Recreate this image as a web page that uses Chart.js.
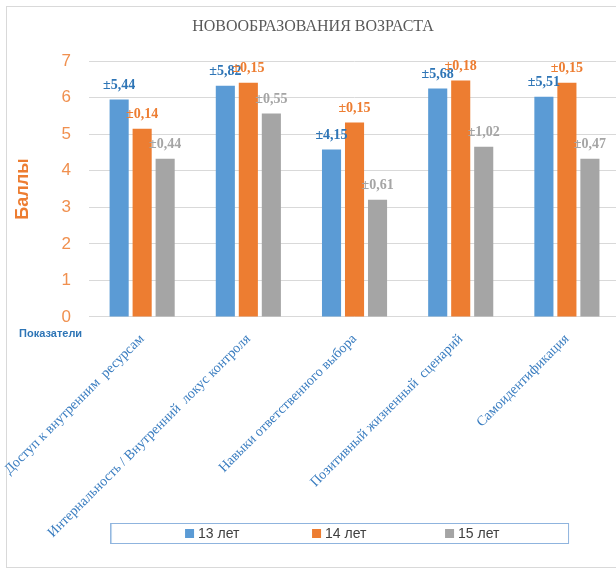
<!DOCTYPE html>
<html>
<head>
<meta charset="utf-8">
<script src="https://cdn.jsdelivr.net/npm/chart.js@4.4.1/dist/chart.umd.min.js"></script>
<style>
html, body { margin: 0; padding: 0; overflow: hidden; background: #ffffff; width: 616px; height: 572px; }
#wrap { position: relative; width: 622px; height: 572px; }
</style>
</head>
<body>
<div id="wrap"><canvas id="c" width="622" height="572"></canvas></div>
<script>
const chartTitle = 'НОВООБРАЗОВАНИЯ ВОЗРАСТА';
const categories = [
  'Доступ к внутренним  ресурсам',
  'Интернальность / Внутренний  локус контроля',
  'Навыки ответственного выбора',
  'Позитивный жизненный  сценарий',
  'Самоидентификация'
];
const seriesNames = ['13 лет', '14 лет', '15 лет'];
const age13 = [5.95, 6.33, 4.58, 6.25, 6.03];
const age14 = [5.15, 6.41, 5.32, 6.47, 6.41];
const age15 = [4.33, 5.57, 3.21, 4.66, 4.33];
const err13 = [5.44, 5.82, 4.15, 5.68, 5.51];
const err14 = [0.14, 0.15, 0.15, 0.18, 0.15];
const err15 = [0.44, 0.55, 0.61, 1.02, 0.47];
const yTicks = [0, 1, 2, 3, 4, 5, 6, 7];
const yTitle = 'Баллы';
const xTitle = 'Показатели';

const barColors = ['#5B9BD5', '#ED7D31', '#A5A5A5'];
const labelColors = ['#2E75B6', '#ED7D31', '#A5A5A5'];
const values = [age13, age14, age15];
const errors = [err13, err14, err15];

const datasets = seriesNames.map((name, i) => ({
  label: name,
  data: values[i],
  errs: errors[i],
  backgroundColor: barColors[i],
  labelColor: labelColors[i],
  borderWidth: 0,
  categoryPercentage: 0.65,
  barPercentage: 0.83
}));

const decorPlugin = {
  id: 'decor',
  beforeDraw(chart) {
    const ctx = chart.ctx;
    ctx.save();
    ctx.strokeStyle = '#D9D9D9';
    ctx.lineWidth = 1;
    ctx.strokeRect(6.5, 6.5, chart.width + 10, chart.height - 11);
    ctx.restore();
  },
  afterDatasetsDraw(chart) {
    const ctx = chart.ctx;
    ctx.save();
    ctx.font = 'bold 14px "Liberation Serif", "Times New Roman", serif';
    ctx.textAlign = 'center';
    ctx.textBaseline = 'middle';
    chart.data.datasets.forEach((ds, i) => {
      const meta = chart.getDatasetMeta(i);
      ctx.fillStyle = ds.labelColor;
      meta.data.forEach((bar, j) => {
        const t = '±' + ds.errs[j].toFixed(2).replace('.', ',');
        ctx.fillText(t, bar.x, bar.y - 14);
      });
    });
    ctx.restore();
  },
  afterDraw(chart) {
    const ctx = chart.ctx;
    const ca = chart.chartArea;
    ctx.save();
    ctx.font = 'bold 11px "Liberation Sans", Arial, sans-serif';
    ctx.fillStyle = '#2E75B6';
    ctx.textAlign = 'left';
    ctx.textBaseline = 'middle';
    ctx.fillText(xTitle, ca.left - 70, ca.bottom + 17);
    const bx = ca.left + 21, by = chart.height - 49, bw = 458, bh = 20;
    ctx.strokeStyle = '#8FB4DE';
    ctx.lineWidth = 1;
    ctx.strokeRect(bx + 0.5, by + 0.5, bw, bh);
    ctx.strokeStyle = '#BDD7EE';
    ctx.beginPath(); ctx.moveTo(bx + 1.5, by + 1); ctx.lineTo(bx + 1.5, by + bh); ctx.stroke();
    const offs = [75, 202, 335];
    ctx.font = '14px "Liberation Sans", Arial, sans-serif';
    ctx.textBaseline = 'middle';
    chart.data.datasets.forEach((ds, i) => {
      const x = bx + offs[i];
      ctx.fillStyle = ds.backgroundColor;
      ctx.fillRect(x, by + 6, 9, 9);
      ctx.fillStyle = '#404040';
      ctx.fillText(ds.label, x + 13, by + 11);
    });
    ctx.restore();
  }
};

new Chart(document.getElementById('c'), {
  type: 'bar',
  data: { labels: categories, datasets },
  options: {
    responsive: false,
    animation: false,
    devicePixelRatio: 1,
    layout: { padding: { left: 6, right: 2, top: 0, bottom: 25 } },
    plugins: {
      legend: { display: false },
      tooltip: { enabled: false },
      title: {
        display: true,
        text: chartTitle,
        color: '#595959',
        font: { family: '"Liberation Serif", "Times New Roman", serif', size: 16, weight: 'normal' },
        padding: { top: 17, bottom: 25 }
      }
    },
    scales: {
      x: {
        grid: { display: false },
        border: { display: false },
        ticks: {
          color: '#3A7DC0',
          font: { family: '"Liberation Serif", "Times New Roman", serif', size: 14 },
          minRotation: 45,
          maxRotation: 45,
          autoSkip: false,
          padding: 6
        },
        afterFit(scale) { scale.paddingLeft = 0; scale.paddingRight = 0; }
      },
      y: {
        min: 0,
        max: 7,
        afterBuildTicks(scale) { scale.ticks = yTicks.map(v => ({ value: v })); },
        grid: { color: '#D9D9D9', drawTicks: false },
        border: { display: false },
        ticks: {
          color: '#F0904F',
          font: { family: '"Liberation Sans", Arial, sans-serif', size: 17 },
          padding: 18
        },
        title: {
          display: true,
          text: yTitle,
          color: '#ED7D31',
          font: { family: '"Liberation Sans", Arial, sans-serif', size: 18, weight: 'bold' },
          padding: { top: 6, bottom: 10 }
        }
      }
    }
  },
  plugins: [decorPlugin]
});
</script>
</body>
</html>
